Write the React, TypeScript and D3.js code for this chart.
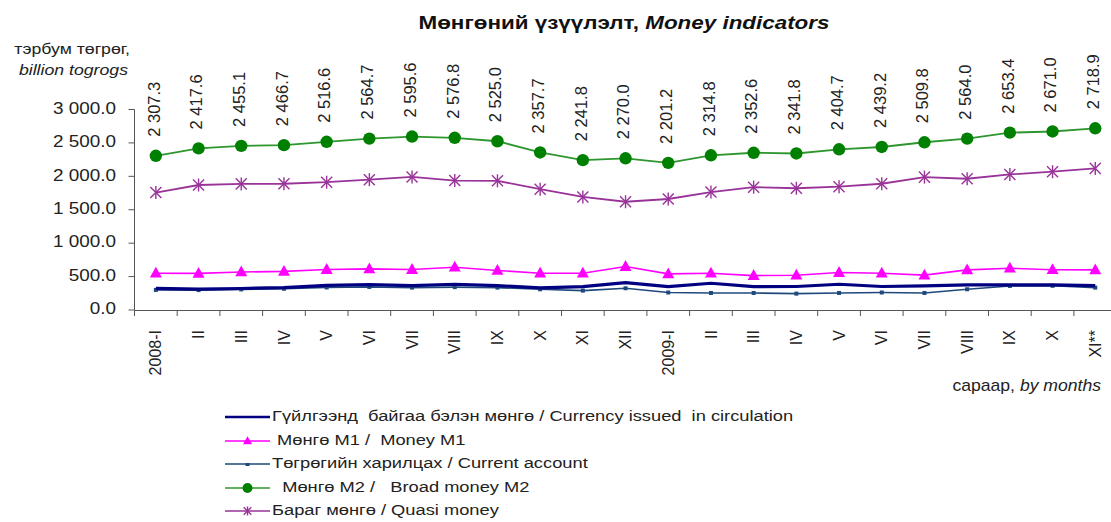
import React from "react";
import * as d3 from "d3";

const categories = ["2008-I","II","III","IV","V","VI","VII","VIII","IX","X","XI","XII","2009-I","II","III","IV","V","VI","VII","VIII","IX","X","XI**"];
const broadMoneyM2 = [2307.3, 2417.6, 2455.1, 2466.7, 2516.6, 2564.7, 2595.6, 2576.8, 2525.0, 2357.7, 2241.8, 2270.0, 2201.2, 2314.8, 2352.6, 2341.8, 2404.7, 2439.2, 2509.8, 2564.0, 2653.4, 2671.0, 2718.9];
const moneyM1 = [550, 548, 568, 578, 605, 615, 605, 640, 592, 550, 550, 650, 540, 550, 515, 520, 560, 550, 522, 600, 625, 602, 600];
const quasiMoney = [1757, 1870, 1887, 1889, 1912, 1950, 1991, 1937, 1933, 1808, 1692, 1620, 1661, 1765, 1838, 1822, 1845, 1889, 1988, 1964, 2028, 2069, 2119];
const currencyIssued = [325, 312, 322, 335, 368, 380, 365, 385, 365, 332, 350, 410, 350, 400, 350, 352, 385, 352, 360, 375, 375, 375, 365];
const currentAccount = [300, 298, 308, 318, 338, 345, 335, 342, 335, 310, 290, 325, 262, 255, 255, 245, 255, 262, 255, 310, 360, 362, 335];
const yTicks = [0, 500, 1000, 1500, 2000, 2500, 3000];

const FONT = "'Liberation Sans', Arial, sans-serif";
const C_M2 = "#008000";
const C_M2_LINE = "#2E962E";
const C_M1 = "#FF00FF";
const C_Q = "#993399";
const C_CUR = "#000080";
const C_CA = "#1F497D";
const SX = 1.18;

const fmt = (v: number) => d3.format(",.1f")(v).replace(/,/g, " ");

function Triangle({ x, y, s, color }: { x: number; y: number; s: number; color: string }) {
  const h = s * 0.9;
  return <path d={`M${x},${y - h * 0.6} L${x + s / 2},${y + h * 0.4} L${x - s / 2},${y + h * 0.4} Z`} fill={color} />;
}
function Star({ x, y, s, color }: { x: number; y: number; s: number; color: string }) {
  const r = s / 2;
  return (
    <g stroke={color} strokeWidth={1.4}>
      <line x1={x} y1={y - r} x2={x} y2={y + r} />
      <line x1={x - r * 0.85} y1={y - r * 0.85} x2={x + r * 0.85} y2={y + r * 0.85} />
      <line x1={x - r * 0.85} y1={y + r * 0.85} x2={x + r * 0.85} y2={y - r * 0.85} />
    </g>
  );
}

export default function App() {
  const W = 1111, H = 522;
  const idx = categories.map((_, i) => i);
  const x = d3.scaleBand<number>().domain(idx).range([134.5, 134.5 + 42.7 * categories.length]).padding(0);
  const cx = (i: number) => (x(i) as number) + x.bandwidth() / 2;
  const y = d3.scaleLinear().domain([0, 3000]).range([310, 109.5]);
  const line = d3.line<number>().x((_, i) => cx(i)).y((d) => y(d));

  const legend = [
    { label: "Гүйлгээнд  байгаа бэлэн мөнгө / Currency issued  in circulation", color: C_CUR, w: 2.5, mk: "none" },
    { label: " Мөнгө М1 /  Money M1", color: C_M1, w: 1.5, mk: "tri" },
    { label: "Төгрөгийн харилцах / Current account", color: C_CA, w: 1.5, mk: "dash" },
    { label: "  Мөнгө М2 /   Broad money M2", color: C_M2_LINE, w: 1.5, mk: "circle" },
    { label: "Бараг мөнгө / Quasi money", color: C_Q, w: 1.5, mk: "star" },
  ];
  const legendY = [417, 441, 464, 488, 511];

  return (
    <svg width={W} height={H} style={{ position: "absolute", left: 0, top: 0, background: "#fff" }} fontFamily={FONT}>
      <rect width={W} height={H} fill="#fff" />
      {/* title */}
      <text transform={`translate(624,24) scale(${SX},1)`} textAnchor="middle" dominantBaseline="middle" fontSize={19} fontWeight="bold" fill="#111">
        <tspan>Мөнгөний үзүүлэлт, </tspan>
        <tspan fontStyle="italic">Money indicators</tspan>
      </text>
      {/* unit */}
      <text transform={`translate(130,50) scale(${SX},1)`} textAnchor="end" dominantBaseline="middle" fontSize={15} fill="#222">тэрбум төгрөг,</text>
      <text transform={`translate(128,71) scale(${SX},1)`} textAnchor="end" dominantBaseline="middle" fontSize={15} fontStyle="italic" fill="#222">billion togrogs</text>

      {/* y axis */}
      <line x1={134.5} y1={y(3000)} x2={134.5} y2={y(0)} stroke="#555" strokeWidth={1} />
      {yTicks.map((t) => (
        <g key={t}>
          <line x1={128.5} x2={134.5} y1={y(t)} y2={y(t)} stroke="#555" />
          <text transform={`translate(116,${y(t)}) scale(${SX},1)`} textAnchor="end" dominantBaseline="middle" fontSize={16} fill="#222">{fmt(t)}</text>
        </g>
      ))}
      {/* x axis */}
      <line x1={134.5} x2={W} y1={310.5} y2={310.5} stroke="#555" />
      {idx.map((i) => (
        <line key={i} x1={(x(i) as number)} x2={(x(i) as number)} y1={310.5} y2={316} stroke="#555" />
      ))}
      {categories.map((c, i) => (
        <text key={i} transform={`translate(${cx(i)},${330}) rotate(-90)`} textAnchor="end" dy="0.35em" fontSize={16} fill="#222">{c}</text>
      ))}
      <text transform={`translate(1101,387) scale(1.1,1)`} textAnchor="end" dominantBaseline="middle" fontSize={16} fill="#222">
        <tspan>сараар, </tspan><tspan fontStyle="italic">by months</tspan>
      </text>

      {/* lines */}
      <path d={line(currentAccount) || ""} fill="none" stroke={C_CA} strokeWidth={1.6} />
      {currentAccount.map((v, i) => <rect key={i} x={cx(i) - 2} y={y(v) - 2} width={4} height={4} fill={C_CA} />)}
      <path d={line(currencyIssued) || ""} fill="none" stroke={C_CUR} strokeWidth={3.2} />
      <path d={line(moneyM1) || ""} fill="none" stroke={C_M1} strokeWidth={1.6} />
      {moneyM1.map((v, i) => <Triangle key={i} x={cx(i)} y={y(v)} s={12} color={C_M1} />)}
      <path d={line(quasiMoney) || ""} fill="none" stroke={C_Q} strokeWidth={1.8} />
      {quasiMoney.map((v, i) => <Star key={i} x={cx(i)} y={y(v)} s={13} color={C_Q} />)}
      <path d={line(broadMoneyM2) || ""} fill="none" stroke={C_M2_LINE} strokeWidth={1.8} />
      {broadMoneyM2.map((v, i) => <circle key={i} cx={cx(i)} cy={y(v)} r={6.2} fill={C_M2} />)}
      {broadMoneyM2.map((v, i) => (
        <text key={i} transform={`translate(${cx(i) - 2},${y(v) - 19}) rotate(-90)`} dy="0.35em" fontSize={16.5} fill="#222">{fmt(v)}</text>
      ))}

      {/* legend */}
      {legend.map((l, k) => {
        const ly = legendY[k];
        return (
          <g key={k}>
            <line x1={225} x2={270} y1={ly} y2={ly} stroke={l.color} strokeWidth={l.w} />
            {l.mk === "tri" && <Triangle x={247.5} y={ly} s={9} color={l.color} />}
            {l.mk === "circle" && <circle cx={247.5} cy={ly} r={5} fill={C_M2} />}
            {l.mk === "star" && <Star x={247.5} y={ly} s={9} color={l.color} />}
            {l.mk === "dash" && <rect x={245.5} y={ly - 1} width={4} height={3} fill={l.color} />}
            <text transform={`translate(272,${ly}) scale(${SX},1)`} dominantBaseline="middle" fontSize={15.5} fill="#222" style={{ whiteSpace: "pre" }}>{l.label}</text>
          </g>
        );
      })}
    </svg>
  );
}
